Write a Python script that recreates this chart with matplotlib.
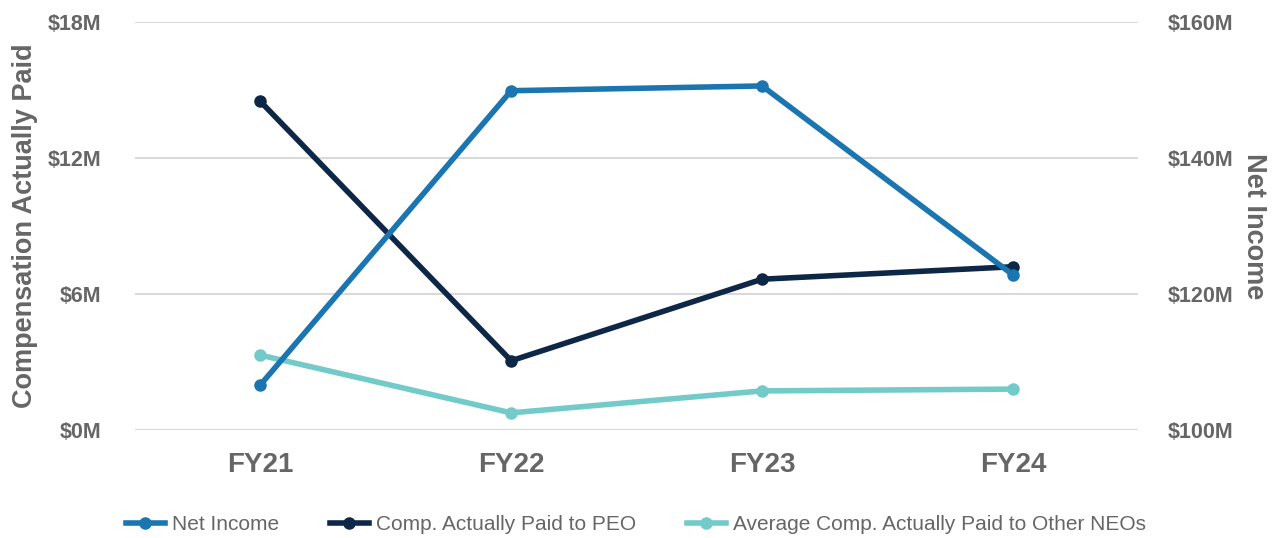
import matplotlib
matplotlib.use('Agg')
import matplotlib.pyplot as plt
from matplotlib.ticker import FuncFormatter

years = ['FY21', 'FY22', 'FY23', 'FY24']
peo_cap = [14.5, 3.05, 6.65, 7.2]          # $M, left axis
neo_cap = [3.3, 0.75, 1.72, 1.8]           # $M, left axis
net_income = [106.6, 149.9, 150.6, 122.8]  # $M, right axis

plt.rcParams['font.family'] = ['Liberation Sans', 'DejaVu Sans']
gray = '#666666'
c_ni = '#1a75b0'
c_peo = '#0e2747'
c_neo = '#72cbc8'

fig = plt.figure(figsize=(12.72, 5.38), dpi=100)
ax = fig.add_axes([0.106, 0.201, 0.789, 0.758])
ax2 = ax.twinx()

x = range(len(years))
ln_peo, = ax.plot(x, peo_cap, color=c_peo, lw=4, marker='o', ms=8, zorder=3)
ln_neo, = ax.plot(x, neo_cap, color=c_neo, lw=4, marker='o', ms=8, zorder=3)
ln_ni, = ax2.plot(x, net_income, color=c_ni, lw=4, marker='o', ms=8, zorder=3)

ax.set_xlim(-0.5, 3.5)
ax.set_ylim(0, 18)
ax.set_yticks([0, 6, 12, 18])
ax.yaxis.set_major_formatter(FuncFormatter(lambda v, p: f'${v:.0f}M'))
ax2.set_ylim(100, 160)
ax2.set_yticks([100, 120, 140, 160])
ax2.yaxis.set_major_formatter(FuncFormatter(lambda v, p: f'${v:.0f}M'))

ax.set_xticks(list(x))
ax.set_xticklabels(years)
ax.grid(axis='y', color='#d9d9d9', lw=1.5)
ax.set_axisbelow(True)

for a in (ax, ax2):
    for s in a.spines.values():
        s.set_visible(False)
    a.tick_params(length=0, colors=gray)

ax.tick_params(axis='y', labelsize=15.5, pad=24)
ax2.tick_params(axis='y', labelsize=15.5, pad=21)
for lbl in ax.get_yticklabels() + ax2.get_yticklabels():
    lbl.set_fontweight('bold')
ax.tick_params(axis='x', labelsize=20, pad=16)
for lbl in ax.get_xticklabels():
    lbl.set_fontweight('bold')

ax.set_ylabel('Compensation Actually Paid', fontsize=19.5, fontweight='bold', color=gray, labelpad=7)
ax2.set_ylabel('Net Income', fontsize=19.5, fontweight='bold', color=gray, rotation=270, labelpad=24)

fig.legend([ln_ni, ln_peo, ln_neo],
           ['Net Income', 'Comp. Actually Paid to PEO', 'Average Comp. Actually Paid to Other NEOs'],
           loc='lower center', bbox_to_anchor=(0.5, -0.028), ncol=3, frameon=False,
           fontsize=15, labelcolor=gray, handlelength=1.9, columnspacing=2.4, handletextpad=0.35)

fig.savefig('out.png', dpi=100)
